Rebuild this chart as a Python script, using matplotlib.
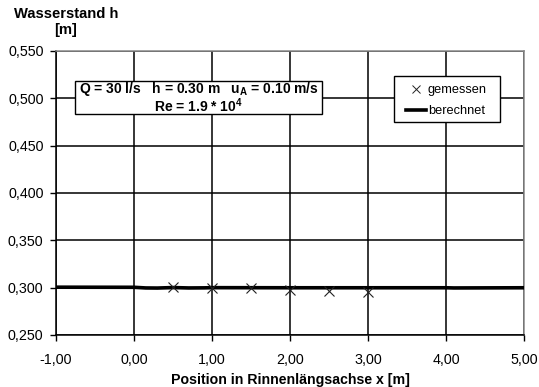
import matplotlib
matplotlib.use("Agg")
import matplotlib.pyplot as plt
from matplotlib.patches import Rectangle
from matplotlib.lines import Line2D
from matplotlib.ticker import FuncFormatter, MultipleLocator

plt.rcParams['font.family'] = ['Liberation Sans', 'DejaVu Sans']
plt.rcParams['mathtext.fontset'] = 'custom'
plt.rcParams['mathtext.rm'] = 'Liberation Sans:bold'
plt.rcParams['mathtext.it'] = 'Liberation Sans:bold'
plt.rcParams['mathtext.bf'] = 'Liberation Sans:bold'

# measured water levels
x_meas = [0.5, 1.0, 1.5, 2.0, 2.5, 3.0]
h_meas = [0.3002, 0.2997, 0.2996, 0.2975, 0.2966, 0.2958]

# calculated water surface profile
x_calc = [-1.0, 0.0, 0.15, 0.3, 0.5, 0.7, 0.9, 1.0, 2.0, 3.0, 4.0, 4.1, 5.0]
h_calc = [0.3005, 0.3004, 0.2997, 0.2996, 0.3001, 0.2997, 0.2998, 0.3000,
          0.2999, 0.2999, 0.2999, 0.2997, 0.2999]

W, H = 539, 387


def fx(px):
    return px / W


def fy(py):
    return 1 - py / H


fig = plt.figure(figsize=(W / 100, H / 100), dpi=100)
ax = fig.add_axes([fx(56), fy(335), fx(524) - fx(56), fy(51) - fy(335)])

ax.set_xlim(-1.0, 5.0)
ax.set_ylim(0.25, 0.55)
ax.xaxis.set_major_locator(MultipleLocator(1.0))
ax.yaxis.set_major_locator(MultipleLocator(0.05))
ax.xaxis.set_major_formatter(FuncFormatter(lambda v, p: f"{v:.2f}".replace('.', ',')))
ax.yaxis.set_major_formatter(FuncFormatter(lambda v, p: f"{v:.3f}".replace('.', ',')))
ax.tick_params(axis='both', direction='out', length=4, width=1, labelsize=10.3,
               colors='black')
ax.tick_params(axis='x', pad=9)
ax.tick_params(axis='y', pad=5)

ax.grid(True, color='black', linewidth=1.1)
ax.set_axisbelow(True)
for side in ('left', 'bottom'):
    ax.spines[side].set_color('black')
    ax.spines[side].set_linewidth(1.1)
for side in ('top', 'right'):
    ax.spines[side].set_color('#888888')
    ax.spines[side].set_linewidth(1.1)

ax.plot(x_calc, h_calc, color='black', linewidth=2.6, label='berechnet', zorder=3)
ax.plot(x_meas, h_meas, linestyle='none', marker='x', markersize=7,
        markeredgewidth=0.8, color='#222222', label='gemessen', zorder=4)

ax.set_xlabel('Position in Rinnenlängsachse x [m]', fontsize=10.2,
              fontweight='bold', labelpad=4)
fig.text(fx(66), fy(14), 'Wasserstand h', ha='center', va='center',
         fontsize=10.6, fontweight='bold')
fig.text(fx(66), fy(30), '[m]', ha='center', va='center',
         fontsize=10.6, fontweight='bold')

# parameter box
ax.add_patch(Rectangle((fx(75), fy(114)), fx(322) - fx(75), fy(81) - fy(114),
                       transform=fig.transFigure, facecolor='white',
                       edgecolor='black', linewidth=1.0, zorder=5, clip_on=False))
ax.text(fx(198.5), fy(97.5),
        'Q = 30 l/s   h = 0.30 m   u$_\\mathrm{A}$ = 0.10 m/s\n'
        'Re = 1.9 * 10$^\\mathrm{4}$',
        transform=fig.transFigure, ha='center', va='center',
        multialignment='center', fontsize=10, fontweight='bold',
        linespacing=0.9, zorder=6)

# legend box
ax.add_patch(Rectangle((fx(394), fy(122)), fx(500) - fx(394), fy(76) - fy(122),
                       transform=fig.transFigure, facecolor='white',
                       edgecolor='black', linewidth=1.0, zorder=5, clip_on=False))
leg_handles = [
    Line2D([], [], linestyle='none', marker='x', markersize=6,
           markeredgewidth=0.7, color='#222222'),
    Line2D([], [], color='black', linewidth=2.6),
]
leg = ax.legend(leg_handles, ['gemessen', 'berechnet'], loc='upper left',
                bbox_to_anchor=(fx(406), fy(84)), bbox_transform=fig.transFigure,
                fontsize=9.2, frameon=False, handlelength=1.6,
                handletextpad=0.1, borderpad=0.0, labelspacing=0.72,
                borderaxespad=0.0)
leg.set_zorder(7)

fig.savefig('out.png', dpi=100, facecolor='white')
